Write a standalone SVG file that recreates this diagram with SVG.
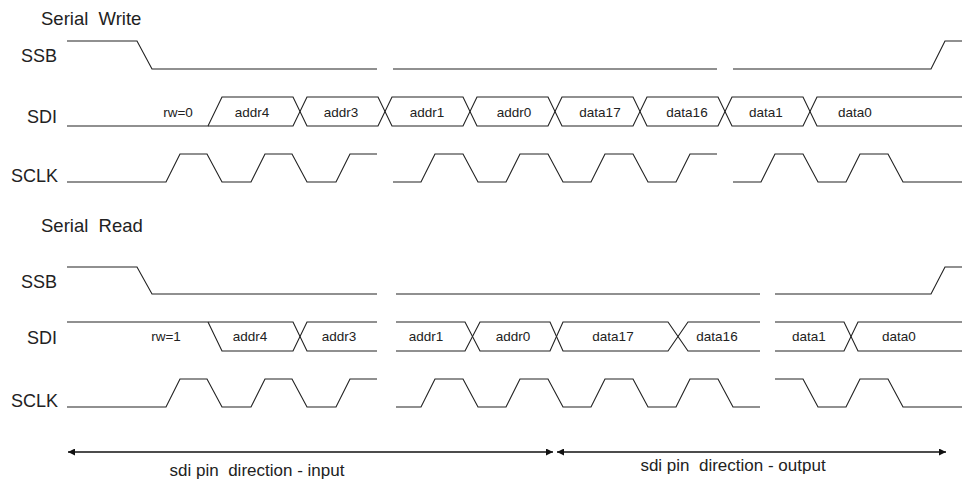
<svg xmlns="http://www.w3.org/2000/svg" width="962" height="482" viewBox="0 0 962 482">
<defs>
<marker id="ah" viewBox="0 0 10 10" refX="10" refY="5" markerWidth="9" markerHeight="7" markerUnits="userSpaceOnUse" orient="auto-start-reverse">
<path d="M0,0 L10,5 L0,10 z" fill="#111"/>
</marker>
</defs>
<style>
.w{fill:none;stroke:#222;stroke-width:1.1;stroke-linejoin:miter}
.lbl{font-family:"Liberation Sans",Arial,sans-serif;font-size:18px;fill:#222;white-space:pre}
.ttl{font-family:"Liberation Sans",Arial,sans-serif;font-size:18.5px;fill:#222;white-space:pre}
.d{font-family:"Liberation Sans",Arial,sans-serif;font-size:13.5px;fill:#222;text-anchor:middle}
.b{font-family:"Liberation Sans",Arial,sans-serif;font-size:17px;fill:#222;text-anchor:middle;white-space:pre}
.ar{fill:none;stroke:#111;stroke-width:1.3}
</style>
<rect width="962" height="482" fill="#fff"/>

<g id="write">
<text class="ttl" x="41" y="25">Serial  Write</text>
<g id="w-ssb">
<text class="lbl" x="21" y="62">SSB</text>
<path class="w" d="M67 41 H137 L152 69 H377 M393 69 H717 M733 69 H931 L945 41 H962"/>
</g>
<g id="w-sdi">
<text class="lbl" x="27" y="123">SDI</text>
<path class="w" d="M67 126 H208 L222 97 H293 L307 126 H378 L392 97 H463 L477 126 H548 L562 97 H633 L647 126 H718 L732 97 H803 L817 126 H962"/>
<path class="w" d="M208 126 H293 L307 97 H378 L392 126 H463 L477 97 H548 L562 126 H633 L647 97 H718 L732 126 H803 L817 97 H962"/>
<text class="d" x="178" y="117">rw=0</text>
<text class="d" x="252" y="117">addr4</text>
<text class="d" x="341" y="117">addr3</text>
<text class="d" x="427" y="117">addr1</text>
<text class="d" x="514" y="117">addr0</text>
<text class="d" x="600" y="117">data17</text>
<text class="d" x="687" y="117">data16</text>
<text class="d" x="766" y="117">data1</text>
<text class="d" x="855" y="117">data0</text>
</g>
<g id="w-sclk">
<text class="lbl" x="11" y="182">SCLK</text>
<path class="w" d="M67 182 H166 L180 154 H207 L222 182 H251 L265 154 H292 L307 182 H336 L350 154 H377 M393 182 H421 L435 154 H463 L478 182 H506 L520 154 H548 L563 182 H591 L605 154 H633 L648 182 H676 L690 154 H717 M733 182 H761 L775 154 H803 L818 182 H846 L860 154 H888 L903 182 H962"/>
</g>
</g>

<g id="read">
<text class="ttl" x="41" y="232">Serial  Read</text>
<g id="r-ssb">
<text class="lbl" x="21" y="288">SSB</text>
<path class="w" d="M67 267 H137 L152 294 H377 M396 294 H760 M775 294 H931 L945 267 H962"/>
</g>
<g id="r-sdi">
<text class="lbl" x="27" y="344">SDI</text>
<path class="w" d="M67 322 H293 L307 351 H377 M396 322 H465 L480 351 H550 L563 322 H668 L688 351 H760 M775 322 H844 L858 351 H962"/>
<path class="w" d="M208 322 L222 351 H293 L307 322 H377 M396 351 H465 L480 322 H550 L563 351 H668 L688 322 H760 M775 351 H844 L858 322 H962"/>
<text class="d" x="166" y="341">rw=1</text>
<text class="d" x="250" y="341">addr4</text>
<text class="d" x="339" y="341">addr3</text>
<text class="d" x="426" y="341">addr1</text>
<text class="d" x="513" y="341">addr0</text>
<text class="d" x="613" y="341">data17</text>
<text class="d" x="717" y="341">data16</text>
<text class="d" x="809" y="341">data1</text>
<text class="d" x="899" y="341">data0</text>
</g>
<g id="r-sclk">
<text class="lbl" x="11" y="407">SCLK</text>
<path class="w" d="M67 407 H166 L180 379 H207 L222 407 H251 L265 379 H292 L307 407 H336 L350 379 H377 M396 407 H421 L435 379 H463 L478 407 H506 L520 379 H548 L563 407 H591 L605 379 H633 L648 407 H676 L690 379 H718 L733 407 H760 M775 379 H803 L818 407 H846 L860 379 H888 L903 407 H962"/>
</g>
</g>

<g id="connectors">
<line class="ar" x1="68" y1="452" x2="553" y2="452" marker-start="url(#ah)" marker-end="url(#ah)"/>
<line class="ar" x1="557" y1="452" x2="946" y2="452" marker-start="url(#ah)" marker-end="url(#ah)"/>
</g>
<g id="direction-labels">
<text class="b" x="257" y="476">sdi pin  direction - input</text>
<text class="b" x="733" y="471">sdi pin  direction - output</text>
</g>
</svg>
